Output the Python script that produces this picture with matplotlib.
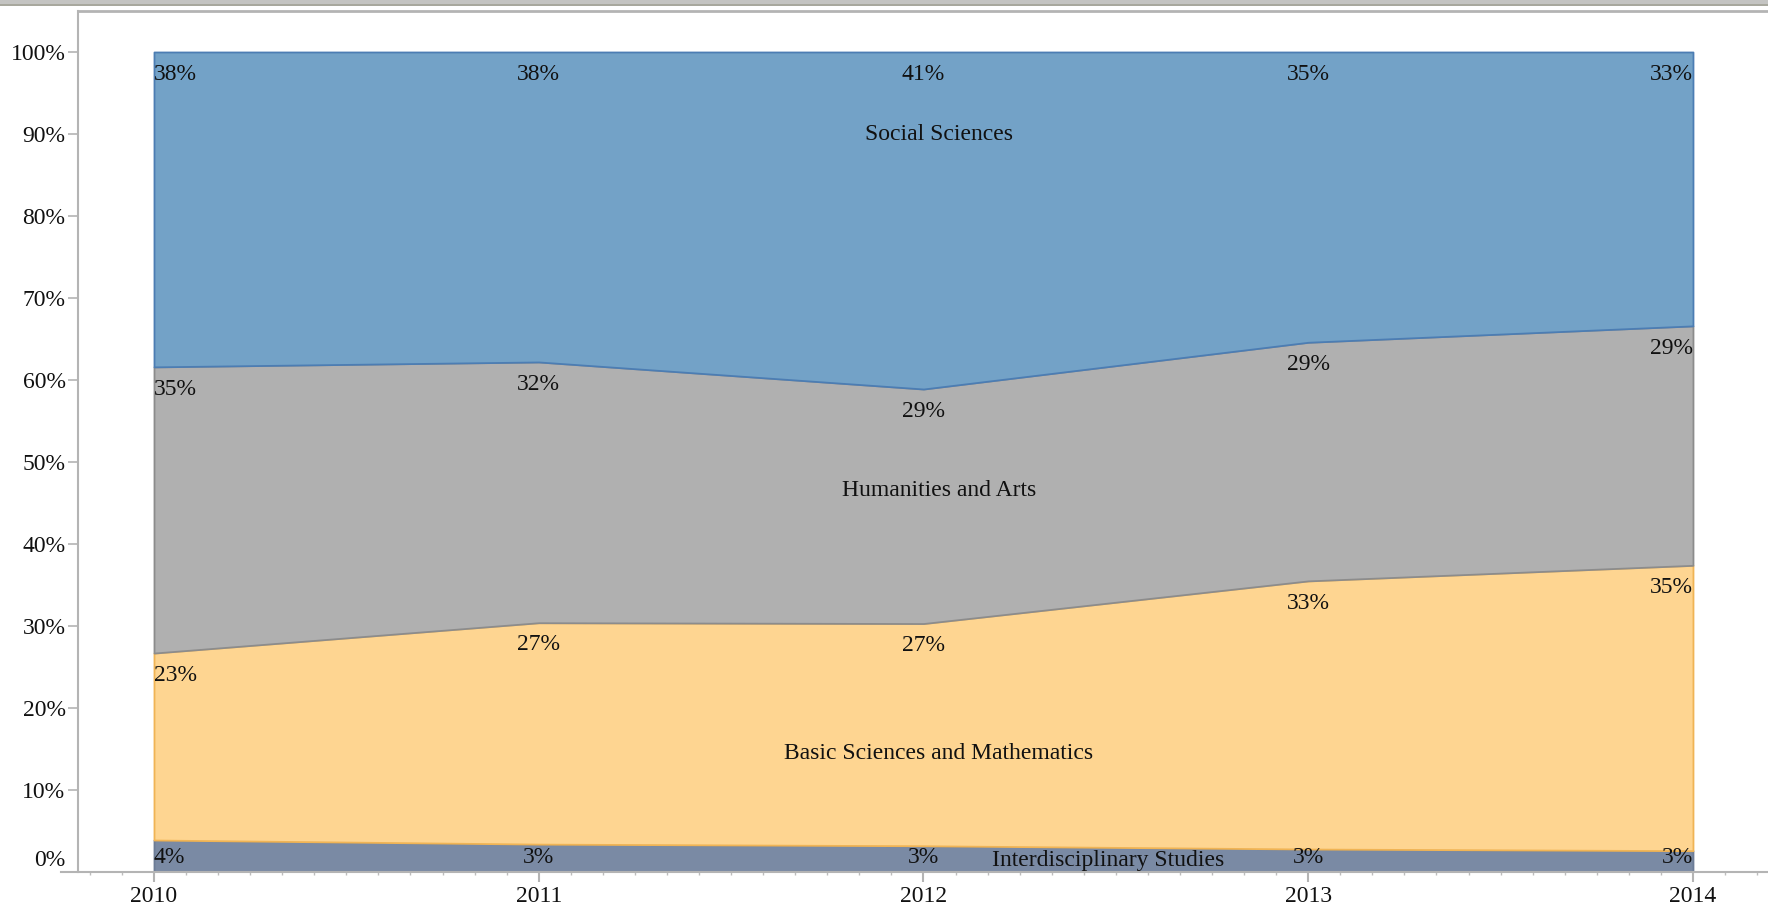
import matplotlib
matplotlib.use("Agg")
import matplotlib.pyplot as plt
import matplotlib.transforms as mtransforms
from matplotlib.patches import Rectangle
import numpy as np

# === Data (share of each field, %) ===
years = [2010, 2011, 2012, 2013, 2014]
interdisciplinary = [3.9, 3.4, 3.2, 2.8, 2.6]
basic_sciences = [22.8, 27.0, 27.1, 32.7, 34.8]
humanities = [34.9, 31.8, 28.6, 29.1, 29.2]
social_sciences = [38.4, 37.8, 41.1, 35.4, 33.4]

series_names = ["Interdisciplinary Studies", "Basic Sciences and Mathematics",
                "Humanities and Arts", "Social Sciences"]
series_values = [interdisciplinary, basic_sciences, humanities, social_sciences]

# name label positions (year, %)
name_pos = [(2012.48, 1.4), (2012.04, 14.5), (2012.04, 46.5), (2012.04, 89.9)]

# === Styling ===
fills = ["#7A8AA4", "#FED591", "#B0B0B0", "#73A2C7"]
edges = ["#6C7C96", "#F0B455", "#8C8C8C", "#4C7DB3"]
axis_grey = "#B4B4B4"
FS = 17
plt.rcParams['font.family'] = ['Liberation Serif', 'DejaVu Serif']

fig = plt.figure(figsize=(17.68, 9.11), dpi=100)
W, H = 1768, 911
ax = fig.add_axes([78 / W, (H - 872) / H, (W - 78) / W, (872 - 11) / H])

x = np.array(years, dtype=float)
bottom = np.zeros(len(years))
tops = []
for vals, fc, ec in zip(series_values, fills, edges):
    top = bottom + np.array(vals)
    # each band outlined in its own edge colour; upper bands drawn over shared edges
    ax.fill_between(x, bottom, top, facecolor=fc, edgecolor=ec, lw=1.3, zorder=2)
    tops.append(top)
    bottom = top

# === Percentage labels ===
for vals, top in zip(series_values, tops):
    for i, yr in enumerate(years):
        ha = "left" if i == 0 else ("right" if i == len(years) - 1 else "center")
        ylab = max(top[i] - 2.7, 1.8)
        ax.text(yr, ylab, f"{round(vals[i]):.0f}%", ha=ha, va="center",
                fontsize=FS, color="#111111", zorder=5)

for name, (px, py) in zip(series_names, name_pos):
    ax.text(px, py, name, ha="center", va="center", fontsize=FS,
            color="#111111", zorder=5)

# === Axes styling ===
for s in ["right", "bottom"]:
    ax.spines[s].set_visible(False)
ax.spines["left"].set_color(axis_grey)
ax.spines["top"].set_color(axis_grey)
ax.spines["left"].set_linewidth(1.5)
ax.spines["top"].set_linewidth(2)

# x-axis line extending to the left past the y axis
ax.plot([-0.01, 1.0], [0, 0], transform=ax.transAxes, color=axis_grey,
        lw=1.5, clip_on=False, zorder=6)

yt = list(range(0, 101, 10))
ax.set_yticks(yt)
ax.set_yticklabels([f"{v}%" for v in yt])
ax.tick_params(axis="y", length=7, width=1.2, color=axis_grey, pad=2,
               labelsize=FS, labelcolor="#111111")
# lift the 0% label off the x axis
offset = mtransforms.ScaledTranslation(0, 14 / 100, fig.dpi_scale_trans)
ylabels = ax.get_yticklabels()
ylabels[0].set_transform(ylabels[0].get_transform() + offset)

ax.set_xticks(years)
ax.set_xticklabels([str(y) for y in years])
ax.set_xticks(np.arange(2009.75, 2014.2, 1 / 12), minor=True)
ax.tick_params(axis="x", which="major", length=7, width=1.5, color=axis_grey,
               pad=3, labelsize=FS, labelcolor="#111111")
ax.tick_params(axis="x", which="minor", length=2.5, width=1, color="#BDBDBD")
ax.tick_params(axis="y", which="minor", left=False)

# limits last, so the minor ticks do not widen them
ax.set_xlim(2009.8025, 2014.195)
ax.set_ylim(0, 105)

# grey strip along the top of the window
fig.patches.append(Rectangle((0, (H - 5) / H), 1, 5 / H, transform=fig.transFigure,
                             facecolor="#C4C4C2", edgecolor="none"))
fig.patches.append(Rectangle((0, (H - 6) / H), 1, 1.5 / H, transform=fig.transFigure,
                             facecolor="#A8A89E", edgecolor="none"))

fig.savefig("out.png", dpi=100)
